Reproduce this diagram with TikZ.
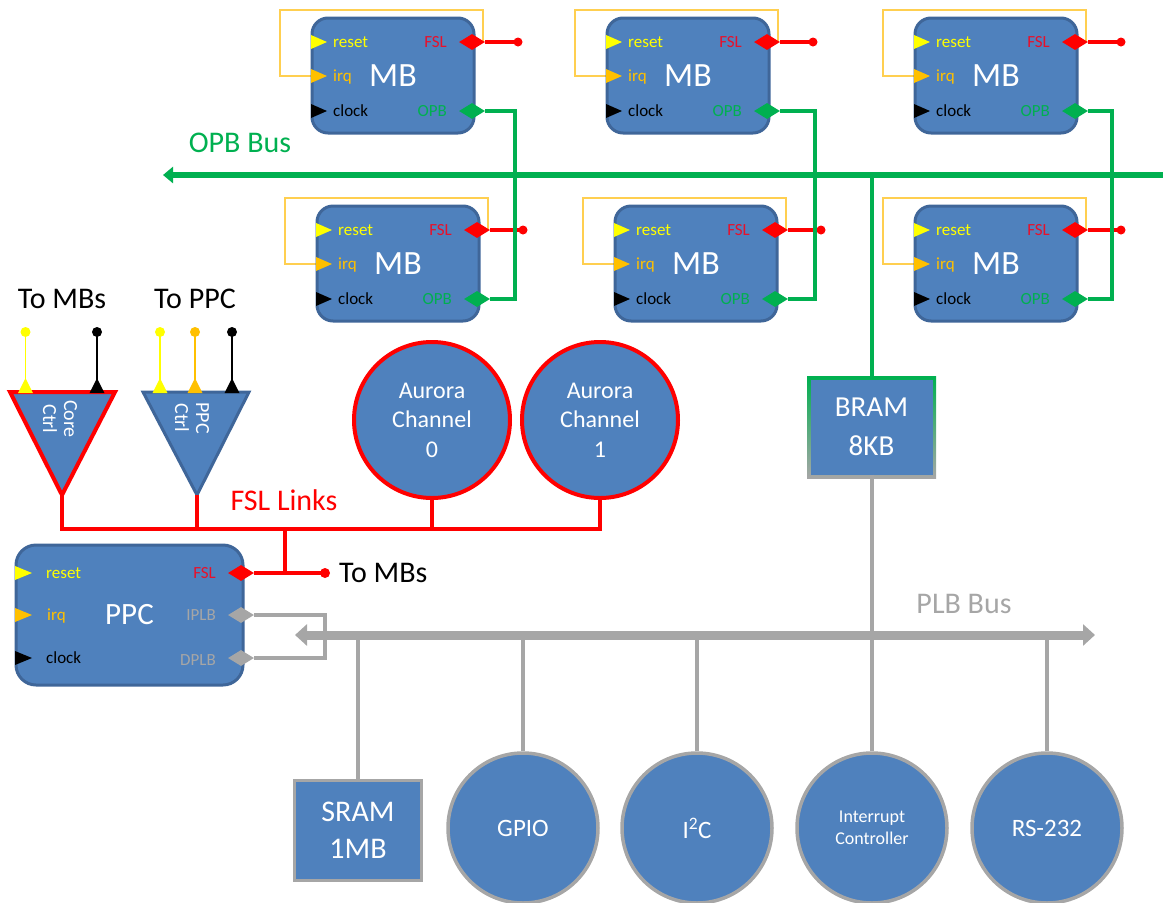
\documentclass[tikz,border=0pt]{standalone}
\usepackage{fontspec}
\setmainfont{Carlito}
\usetikzlibrary{shapes.geometric,arrows.meta}
\definecolor{boxblue}{HTML}{4F81BD}
\definecolor{boxedge}{HTML}{3F6699}
\definecolor{opbgreen}{HTML}{00B050}
\definecolor{fslred}{HTML}{FF0000}
\definecolor{fsltxt}{HTML}{E8102A}
\definecolor{plbgray}{HTML}{A6A6A6}
\definecolor{loopc}{HTML}{FFCF50}
\definecolor{irqc}{HTML}{FFC000}
\definecolor{rstc}{HTML}{FFFF00}
\tikzset{
 mbbox/.style={draw=boxedge, line width=3pt, fill=boxblue, rounded corners=16pt, minimum width=162pt, minimum height=115pt, text=white, font=\fontsize{34}{34}\selectfont, inner sep=0pt},
 ppcbox/.style={mbbox, rounded corners=20pt, minimum width=227pt, minimum height=140pt, font=\fontsize{31}{31}\selectfont},
 plbl/.style={font=\fontsize{17}{17}\selectfont, inner sep=0pt, anchor=base west},
 prlbl/.style={font=\fontsize{17}{17}\selectfont, inner sep=0pt, anchor=base east},
 dia/.style={diamond, aspect=1.6, minimum width=26pt, minimum height=16pt, inner sep=0pt},
 fsldia/.style={dia, fill=fslred},
 opbdia/.style={dia, fill=opbgreen},
 plbdia/.style={dia, fill=plbgray},
 loopline/.style={draw=loopc, line width=1.6pt},
 fslwire/.style={draw=fslred, line width=4pt},
 opbwire/.style={draw=opbgreen, line width=4pt},
 plbwire/.style={draw=plbgray, line width=4pt},
 opbbus/.style={draw=opbgreen, line width=6pt, arrows={Triangle[length=10pt,width=16pt]-Triangle[length=10pt,width=16pt]}},
 plbbus/.style={draw=plbgray, line width=9pt, arrows={Triangle[length=12pt,width=21pt]-Triangle[length=12pt,width=21pt]}},
 buslbl/.style={font=\fontsize{30}{30}\selectfont, inner sep=0pt},
 aurora/.style={circle, draw=fslred, line width=4pt, fill=boxblue, minimum size=156pt, inner sep=0pt, text=white, align=center, font=\fontsize{24}{29.5}\selectfont},
 pcirc/.style={circle, draw=plbgray, line width=3.5pt, fill=boxblue, minimum size=150pt, inner sep=0pt, text=white, align=center, font=\fontsize{25}{30}\selectfont},
 prect/.style={rectangle, draw=plbgray, line width=3.5pt, fill=boxblue, minimum width=127pt, minimum height=100pt, inner sep=0pt, text=white, align=center, font=\fontsize{30}{37}\selectfont},
 bramnode/.style={rectangle, fill=boxblue, minimum width=122pt, minimum height=95pt, inner sep=0pt, text=white, align=center, font=\fontsize{29}{39}\selectfont},
 ctrllbl/.style={rotate=-90, inner sep=0pt, text=white, align=center, font=\fontsize{20}{21}\selectfont},
 sigwire/.style={line width=1.5pt},
}
\newcommand{\mbunit}[3]{%
\begin{scope}[shift={(#2,#3)}]
 \coordinate (#1-lpa) at (-1,58);
 \coordinate (#1-lpb) at (-32,-8);
 \coordinate (#1-lpc) at (171,24);
 \draw[loopline] (#1-lpa) -| (#1-lpb) -| (#1-lpc);
 \node[mbbox] (#1) at (81,57.5) {MB};
 \fill[rstc] (-1,17) -- (15,24) -- (-1,31) -- cycle;
 \fill[irqc] (-1,51) -- (15,58) -- (-1,65) -- cycle;
 \fill[black] (-1,86) -- (15,93) -- (-1,100) -- cycle;
 \node[plbl, text=rstc] (#1-rst) at (21,29) {reset};
 \node[plbl, text=irqc] (#1-irq) at (21,63) {irq};
 \node[plbl, text=black] (#1-clk) at (21,98) {clock};
 \node[prlbl, text=fsltxt] (#1-fsll) at (135,29) {FSL};
 \node[prlbl, text=opbgreen] (#1-opbl) at (135,98) {OPB};
 \node[fsldia] (#1-fsl) at (160,24) {};
 \node[opbdia] (#1-opb) at (160,93) {};
 \coordinate (#1-end) at (206,24);
 \draw[fslwire] (#1-fsl.east) -- (#1-end);
 \fill[fslred] (#1-end) circle (4.5pt);
\end{scope}}
\begin{document}
\begin{tikzpicture}[x=1pt,y=-1pt]
\useasboundingbox (0,0) rectangle (1163,903);

% OPB bus
\coordinate (opbL) at (163,175);
\coordinate (opbR) at (1174,175);
\draw[opbbus] (opbL) -- (opbR);
\node[buslbl, text=opbgreen] (opblbl) at (240,143) {OPB Bus};

% MicroBlaze units
\mbunit{t1}{312}{18}
\mbunit{t2}{607}{18}
\mbunit{t3}{915}{18}
\mbunit{b1}{317}{206}
\mbunit{b2}{615}{206}
\mbunit{b3}{915}{206}

% OPB drops
\coordinate (d1) at (515,175);
\coordinate (d2) at (815,175);
\coordinate (d3) at (1112,175);
\draw[opbwire] (t1-opb.east) -| (d1) |- (b1-opb.east);
\draw[opbwire] (t2-opb.east) -| (d2) |- (b2-opb.east);
\draw[opbwire] (t3-opb.east) -| (d3) |- (b3-opb.east);

% BRAM
\shade[top color=opbgreen, bottom color=plbgray] (807,376.5) rectangle (936,478);
\node[bramnode] (bram) at (871.5,427) {BRAM\\8KB};
\coordinate (bramtap) at (872,175);
\draw[opbwire] (bramtap) -- (bram.north -| bramtap);

% Peripherals
\node[prect] (sram) at (358,830.5) {SRAM\\1MB};
\node[pcirc] (gpio) at (523,828) {GPIO};
\node[pcirc] (i2c) at (697,828) {I\textsuperscript{2}C};
\node[pcirc, font=\fontsize{18}{22}\selectfont] (intc) at (872,828) {Interrupt\\Controller};
\node[pcirc] (rs) at (1047,828) {RS-232};

\coordinate (plbL) at (295,635);
\coordinate (plbR) at (1095,635);
\draw[plbwire] (sram.north) -- (sram.north |- plbL);
\draw[plbwire] (gpio.north) -- (gpio.north |- plbL);
\draw[plbwire] (i2c.north) -- (i2c.north |- plbL);
\draw[plbwire] (rs.north) -- (rs.north |- plbL);
\draw[plbwire] (bram.south -| bramtap) -- (intc.north);

% PPC
\node[ppcbox] (ppc) at (129.5,615) {PPC};
\fill[rstc] (15,566) -- (32,573) -- (15,580) -- cycle;
\fill[irqc] (15,608) -- (32,615) -- (15,622) -- cycle;
\fill[black] (15,651) -- (32,658) -- (15,665) -- cycle;
\node[plbl, text=rstc] (ppc-rst) at (46,578) {reset};
\node[plbl, text=irqc] (ppc-irq) at (47,620) {irq};
\node[plbl, text=black] (ppc-clk) at (46,663) {clock};
\node[prlbl, text=fsltxt] (ppc-fsll) at (216,578) {FSL};
\node[prlbl, text=plbgray] (ppc-iplbl) at (216,620) {IPLB};
\node[prlbl, text=plbgray] (ppc-dplbl) at (216,665) {DPLB};
\node[fsldia] (ppc-fsl) at (241,573) {};
\node[plbdia] (ppc-iplb) at (241,615) {};
\node[plbdia] (ppc-dplb) at (241,658) {};
\coordinate (brk) at (325,636);
\draw[plbwire] (ppc-iplb.east) -| (brk) |- (ppc-dplb.east);
\draw[plbbus] (plbL) -- (plbR);
\node[buslbl, text=plbgray] (plblbl) at (964,604) {PLB Bus};

% FSL network
\node[aurora] (aur0) at (432,420) {Aurora\\Channel\\0};
\node[aurora] (aur1) at (600,420) {Aurora\\Channel\\1};

\coordinate (core-apex) at (62,495);
\coordinate (ppcc-apex) at (197,495);
\filldraw[fill=boxblue, draw=fslred, line width=4pt] (10,392) -- (115,392) -- (core-apex) -- cycle;
\filldraw[fill=boxblue, draw=boxedge, line width=3pt] (143,392) -- (249,392) -- (ppcc-apex) -- cycle;
\node[ctrllbl] (corelbl) at (60,419) {Core\\Ctrl};
\node[ctrllbl] (ppcclbl) at (192,418) {PPC\\Ctrl};

\coordinate (fslA) at (62,529);
\coordinate (fslE) at (600,529);
\draw[fslwire] (core-apex) -- (fslA) -- (fslE) -- (aur1.south);
\draw[fslwire] (ppcc-apex) -- (ppcc-apex |- fslA);
\draw[fslwire] (aur0.south) -- (aur0.south |- fslA);
\coordinate (fslJ) at (285,529);
\coordinate (ppcJ) at (285,573);
\coordinate (ppcend) at (325,573);
\draw[fslwire] (ppc-fsl.east) -- (ppcend);
\draw[fslwire] (ppcJ) -- (fslJ);
\fill[fslred] (ppcend) circle (5pt);
\node[buslbl, anchor=west] (tombs2) at (339,573) {To MBs};
\node[buslbl, text=fslred] (fsllbl) at (284,500) {FSL Links};

% control signal pins
\foreach \nm/\xx/\cc in {cr/25.5/rstc, ck/97/black, pr/160/rstc, pi/195/irqc, pk/232/black}{
  \coordinate (\nm-top) at (\xx,332);
  \coordinate (\nm-bot) at (\xx,384);
  \draw[sigwire, draw=\cc] (\nm-bot) -- (\nm-top);
  \fill[\cc] (\nm-top) circle (5pt);
  \fill[\cc] (\xx-7.5,393) -- (\xx,378) -- (\xx+7.5,393) -- cycle;
}
\node[buslbl] (tombs1) at (62,299) {To MBs};
\node[buslbl] (toppc) at (195,299) {To PPC};
\end{tikzpicture}
\end{document}
